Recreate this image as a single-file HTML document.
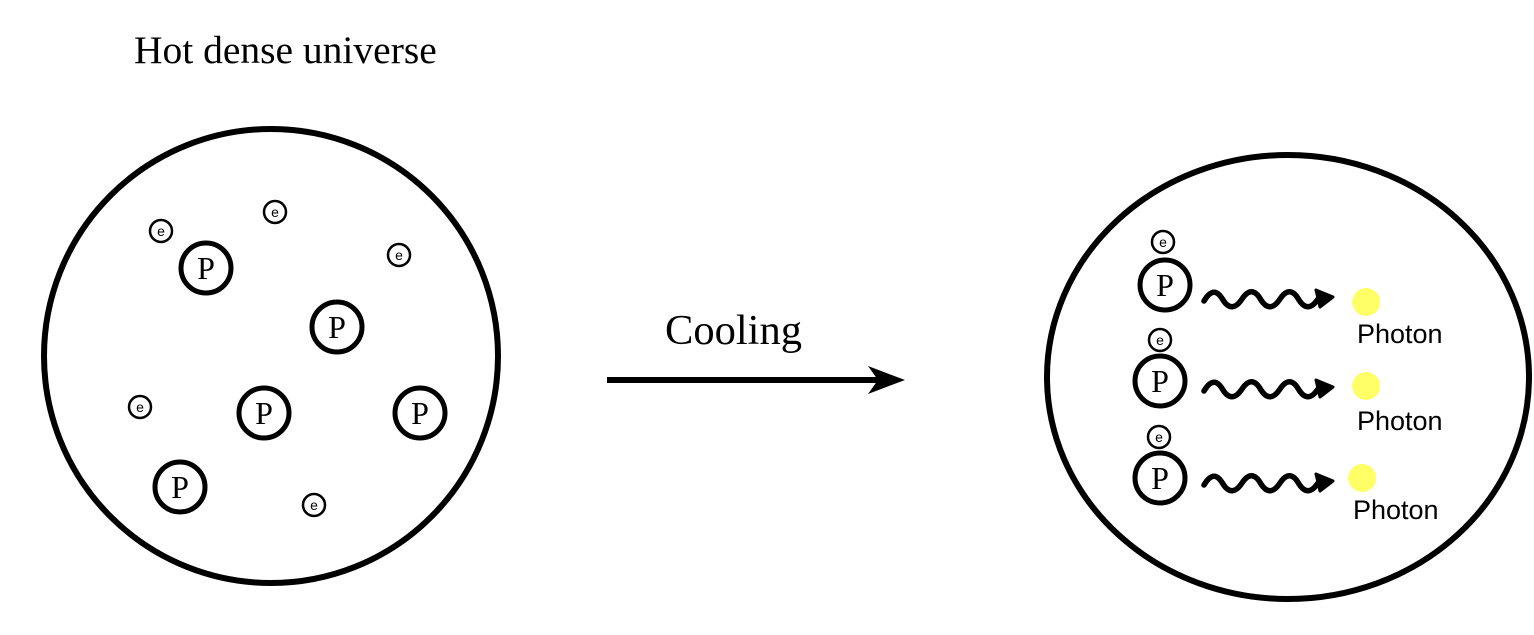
<!DOCTYPE html>
<html><head><meta charset="utf-8"><style>
html,body{margin:0;padding:0;background:#fff;width:1534px;height:635px;overflow:hidden}
svg{display:block}
.serif{font-family:"Liberation Serif",serif}
.sans{font-family:"Liberation Sans",sans-serif}
</style></head><body>
<svg width="1534" height="635" viewBox="0 0 1534 635">
<text x="134" y="63" class="serif" font-size="39.5">Hot dense universe</text>
<circle cx="271" cy="356" r="227" fill="none" stroke="#000" stroke-width="6"/>
<g id="left"></g>
<line x1="607" y1="380" x2="885" y2="380" stroke="#000" stroke-width="6"/>
<path d="M868 366 L905 380 L868 394 L878 380 Z" fill="#000"/>
<text x="665" y="344" class="serif" font-size="42.5">Cooling</text>
<ellipse cx="1288" cy="377" rx="241" ry="222" fill="none" stroke="#000" stroke-width="6"/>
<g id="right"></g>
</svg>
<script>
const NS="http://www.w3.org/2000/svg";
function mk(tag,attrs,parent){const e=document.createElementNS(NS,tag);for(const k in attrs)e.setAttribute(k,attrs[k]);parent.appendChild(e);return e;}
const L=document.getElementById('left'),R=document.getElementById('right');
function proton(x,y,g){
 const c=mk('circle',{cx:x,cy:y,r:25,fill:'#fff',stroke:'#000','stroke-width':5},g);
 
 
 const t=mk('text',{x:x,y:y+11,'text-anchor':'middle','font-size':32,'class':'serif'},g);t.textContent='P';
 
 
}
function electron(x,y,g){
 const c=mk('circle',{cx:x,cy:y,r:11,fill:'#fff',stroke:'#000','stroke-width':2.5},g);
 
 
 const t=mk('text',{x:x,y:y+5,'text-anchor':'middle','font-size':14,'class':'sans'},g);t.textContent='e';
 
 
}
[[206,268],[337,327],[264,413],[420,413],[180,487]].forEach(p=>proton(p[0],p[1],L));
[[161,231],[275,212],[399,255],[140,407],[314,505]].forEach(p=>electron(p[0],p[1],L));
const rows=[[1165,285,1163,242,300,1366,302,343],[1160,381,1160,340,390,1366,386,430],[1160,478,1159,437,484,1362,478,519]];
rows.forEach(r=>{
 proton(r[0],r[1],R);electron(r[2],r[3],R);
 const y=r[4];let d='M1204 '+(y+1);
 for(let i=0;i<3;i++){const x=1204+i*38;d+=' Q'+(x+10)+' '+(y-16)+' '+(x+19)+' '+y+' Q'+(x+28)+' '+(y+14)+' '+(x+38)+' '+(y-1);}
 const w=mk('path',{d:d,fill:'none',stroke:'#000','stroke-width':5.5,'stroke-linecap':'round'},R);
 
 
 const h=mk('path',{d:'M1316 '+(y-10)+' L1333 '+(y-3)+' L1320 '+(y+7)+' Z',fill:'#000',stroke:'#000','stroke-width':3,'stroke-linejoin':'round'},R);
 
 
 const c=mk('circle',{cx:r[5],cy:r[6],r:14,fill:'#ffff66'},R);
 
 
 const t=mk('text',{x:r[5]-9,y:r[7],'font-size':27,'class':'sans'},R);t.textContent='Photon';
 
 
});
</script>
</body></html>
